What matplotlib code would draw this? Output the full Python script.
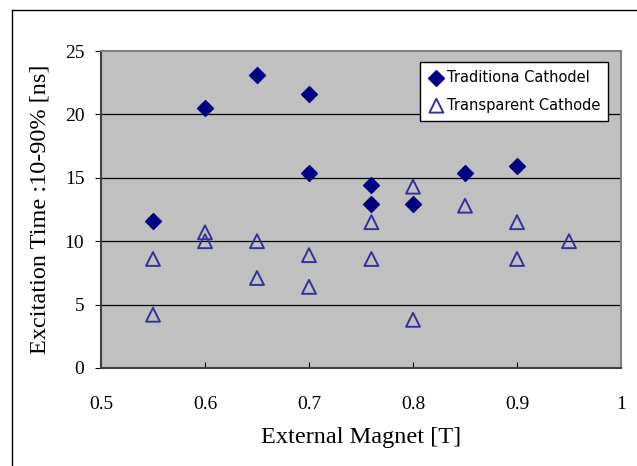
import matplotlib.pyplot as plt
from matplotlib.lines import Line2D

# traditional cathode (filled diamonds)
trad_x = [0.55, 0.60, 0.65, 0.70, 0.70, 0.76, 0.76, 0.80, 0.85, 0.90]
trad_y = [11.6, 20.5, 23.1, 21.6, 15.4, 14.4, 12.9, 12.9, 15.4, 15.9]

# transparent cathode (open triangles)
trans_x = [0.55, 0.55, 0.60, 0.60, 0.65, 0.65, 0.70, 0.70, 0.76, 0.76,
           0.80, 0.80, 0.85, 0.90, 0.90, 0.95]
trans_y = [8.6, 4.2, 10.7, 10.0, 10.0, 7.1, 8.9, 6.4, 11.5, 8.6,
           14.3, 3.8, 12.8, 11.5, 8.6, 10.0]

xticks = [0.5, 0.6, 0.7, 0.8, 0.9, 1.0]
xticklabels = ["0.5", "0.6", "0.7", "0.8", "0.9", "1"]
yticks = [0, 5, 10, 15, 20, 25]

serif = "Liberation Serif"
sans = "DejaVu Sans"

fig = plt.figure(figsize=(6.37, 4.66), dpi=100)
ax = fig.add_axes([101/637, 98/466, 520/637, 317/466])
ax.set_facecolor("#c0c0c0")

# figure frame
fig.add_artist(Line2D([12/637, 12/637], [0, 1 - 10/466], color="black", lw=1.0,
                      transform=fig.transFigure))
fig.add_artist(Line2D([12/637, 1], [1 - 10/466, 1 - 10/466], color="black", lw=1.0,
                      transform=fig.transFigure))

for y in [5, 10, 15, 20]:
    ax.axhline(y, color="black", lw=0.9, zorder=1)

ax.scatter(trad_x, trad_y, marker="D", s=65, color="#000080", zorder=3,
           label="Traditiona Cathodel")
ax.scatter(trans_x, trans_y, marker="^", s=100, facecolors="none",
           edgecolors="#333399", linewidths=1.4, zorder=3,
           label="Transparent Cathode")

ax.set_xlim(0.5, 1.0)
ax.set_ylim(0, 25)
ax.set_xticks(xticks)
ax.set_xticklabels(xticklabels)
ax.set_yticks(yticks)

for lab in ax.get_xticklabels() + ax.get_yticklabels():
    lab.set_fontfamily(serif)
    lab.set_fontsize(14)

ax.tick_params(axis="x", direction="in", length=4, pad=20)
ax.tick_params(axis="y", direction="out", length=4, pad=8)

ax.spines["left"].set_color("#404040")
ax.spines["bottom"].set_color("#404040")
ax.spines["left"].set_linewidth(1.5)
ax.spines["bottom"].set_linewidth(1.5)
ax.spines["top"].set_color("#808080")
ax.spines["right"].set_color("#808080")
ax.spines["top"].set_linewidth(1.5)
ax.spines["right"].set_linewidth(1.5)

ax.set_xlabel("External Magnet [T]", fontfamily=serif, fontsize=17.5, labelpad=10)
ax.set_ylabel("Excitation Time :10-90% [ns]", fontfamily=serif, fontsize=17.5,
              labelpad=10)

leg = ax.legend(loc="upper right", bbox_to_anchor=(0.975, 0.965), fancybox=False,
                framealpha=1, edgecolor="black", prop={"family": sans, "size": 10.5},
                handletextpad=0.1, borderpad=0.55, labelspacing=0.85,
                handlelength=1.2, borderaxespad=0)
leg.get_frame().set_linewidth(1.0)

fig.savefig("out.png", dpi=100)
